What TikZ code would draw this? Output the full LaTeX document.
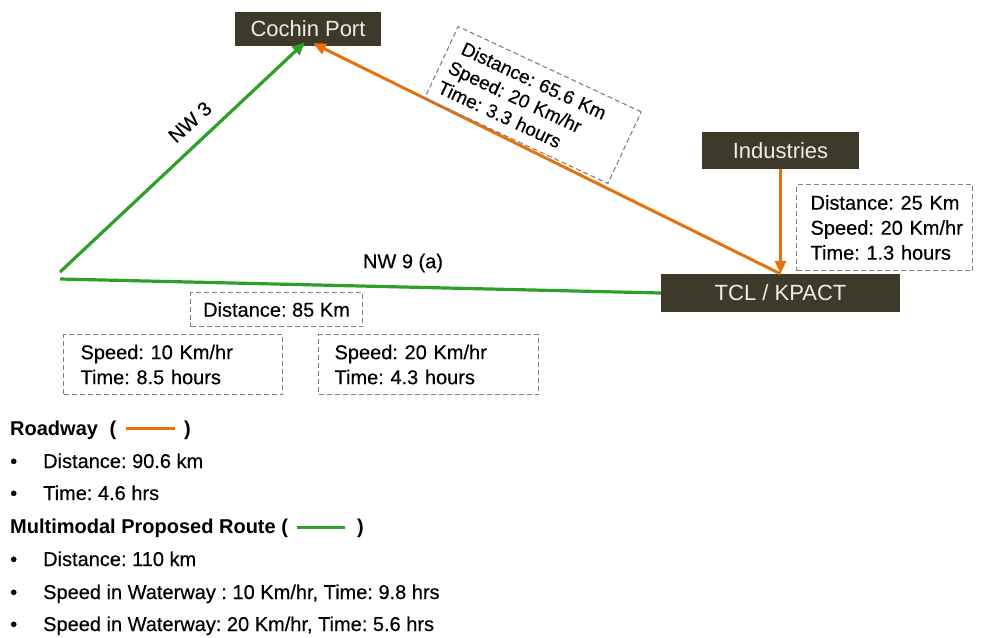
\documentclass[tikz,border=0pt]{standalone}
\usepackage{fontspec}
\setmainfont{Liberation Sans}
\newfontfamily\heavy{Liberation Sans}[FakeBold=0.35]
\usetikzlibrary{arrows.meta}
\definecolor{boxdark}{HTML}{3E3A29}
\definecolor{boxtext}{HTML}{EFEDE4}
\definecolor{roadorange}{HTML}{E5720E}
\definecolor{watergreen}{HTML}{2EA02A}
\definecolor{dashgray}{HTML}{808080}
\frenchspacing
\begin{document}
\begin{tikzpicture}[x=1pt,y=-1pt,
  place/.style={fill=boxdark,text=boxtext,font=\fontsize{22}{26}\selectfont,inner sep=0pt,anchor=center},
  infobox/.style={draw=dashgray,line width=1.1pt,dash pattern=on 5pt off 3pt,inner sep=0pt,font=\heavy\fontsize{20}{25}\selectfont,align=left},
  road/.style={draw=roadorange,line width=3pt,-{Triangle[length=13pt,width=11pt]}},
  water/.style={draw=watergreen,line width=3.2pt},
  lbl/.style={font=\heavy\fontsize{20}{23}\selectfont,inner sep=0pt},
  legtxt/.style={font=\heavy\fontsize{20}{23}\selectfont,inner sep=0pt,anchor=base west},
  leghead/.style={font=\bfseries\fontsize{20}{23}\selectfont,inner sep=0pt,anchor=base west}]
\path[use as bounding box] (0,0) rectangle (984,637);

% places
\node[place,minimum width=146pt,minimum height=34pt] (cochin) at (308,29) {Cochin Port};
\node[place,minimum width=157pt,minimum height=37pt] (ind) at (780.5,150.5) {Industries};
\node[place,minimum width=239pt,minimum height=38pt] (tcl) at (780.5,293) {TCL / KPACT};

% waterway
\coordinate (w1) at (60,272);
\coordinate (w2) at (60,279);
\draw[water,-{Triangle[length=13pt,width=11pt]}] (w1) -- ([xshift=-3pt,yshift=4pt]cochin.south);
\draw[water] (w2) -- (tcl.west);

% roadway
\draw[road] (tcl.north) -- ([xshift=5pt,yshift=3pt]cochin.south);
\draw[road] (ind.south) -- (tcl.north);

% route labels
\node[lbl,rotate=42] (nw3) at (190,122) {NW 3};
\node[lbl] (nw9) at (403,263) {NW 9 (a)};

% info boxes
\node[infobox,rotate=-25,minimum width=202pt,minimum height=79pt,text width=186pt,font=\heavy\fontsize{19}{22.5}\selectfont] (roadinfo) at (533,105)
  {\hspace*{5pt}Distance: 65.6 Km\\\hspace*{1pt}Speed: 20 Km/hr\\Time: 3.3 hours};
\node[infobox,anchor=north west,minimum width=176pt,minimum height=86pt,text width=166pt] (indinfo) at (796,184)
  {\hspace*{9pt}Distance: 25 Km\\\hspace*{9pt}Speed: 20 Km/hr\\\hspace*{9pt}Time: 1.3 hours};
\node[infobox,anchor=north west,minimum width=172pt,minimum height=34pt,align=center] (distinfo) at (190,292)
  {Distance: 85 Km};
\node[infobox,anchor=north west,minimum width=219pt,minimum height=60pt,text width=205pt] (s10) at (63,334)
  {\hspace*{10pt}Speed: 10 Km/hr\\\hspace*{10pt}Time: 8.5 hours};
\node[infobox,anchor=north west,minimum width=220pt,minimum height=60pt,text width=206pt] (s20) at (318,334)
  {\hspace*{9pt}Speed: 20 Km/hr\\\hspace*{9pt}Time: 4.3 hours};

% legend
\node[leghead] (lroad) at (10,435) {Roadway\hspace*{6pt} (};
\coordinate (lo1) at (126,428);
\coordinate (lo2) at (175,428);
\draw[roadorange,line width=3pt] (lo1) -- (lo2);
\node[leghead] (lroadc) at (184,435) {)};
\node[legtxt] (b1) at (10,468) {•};
\node[legtxt] (t1) at (43,468) {Distance: 90.6 km};
\node[legtxt] (b2) at (10,500) {•};
\node[legtxt] (t2) at (43,500) {Time: 4.6 hrs};
\node[leghead] (lmm) at (10,533) {Multimodal Proposed Route (};
\coordinate (lg1) at (297,527);
\coordinate (lg2) at (345,527);
\draw[watergreen,line width=3pt] (lg1) -- (lg2);
\node[leghead] (lmmc) at (357,533) {)};
\node[legtxt] (b3) at (10,566) {•};
\node[legtxt] (t3) at (43,566) {Distance: 110 km};
\node[legtxt] (b4) at (10,599) {•};
\node[legtxt] (t4) at (43,599) {Speed in Waterway : 10 Km/hr, Time: 9.8 hrs};
\node[legtxt] (b5) at (10,631) {•};
\node[legtxt] (t5) at (43,631) {Speed in Waterway: 20 Km/hr, Time: 5.6 hrs};
\end{tikzpicture}
\end{document}
